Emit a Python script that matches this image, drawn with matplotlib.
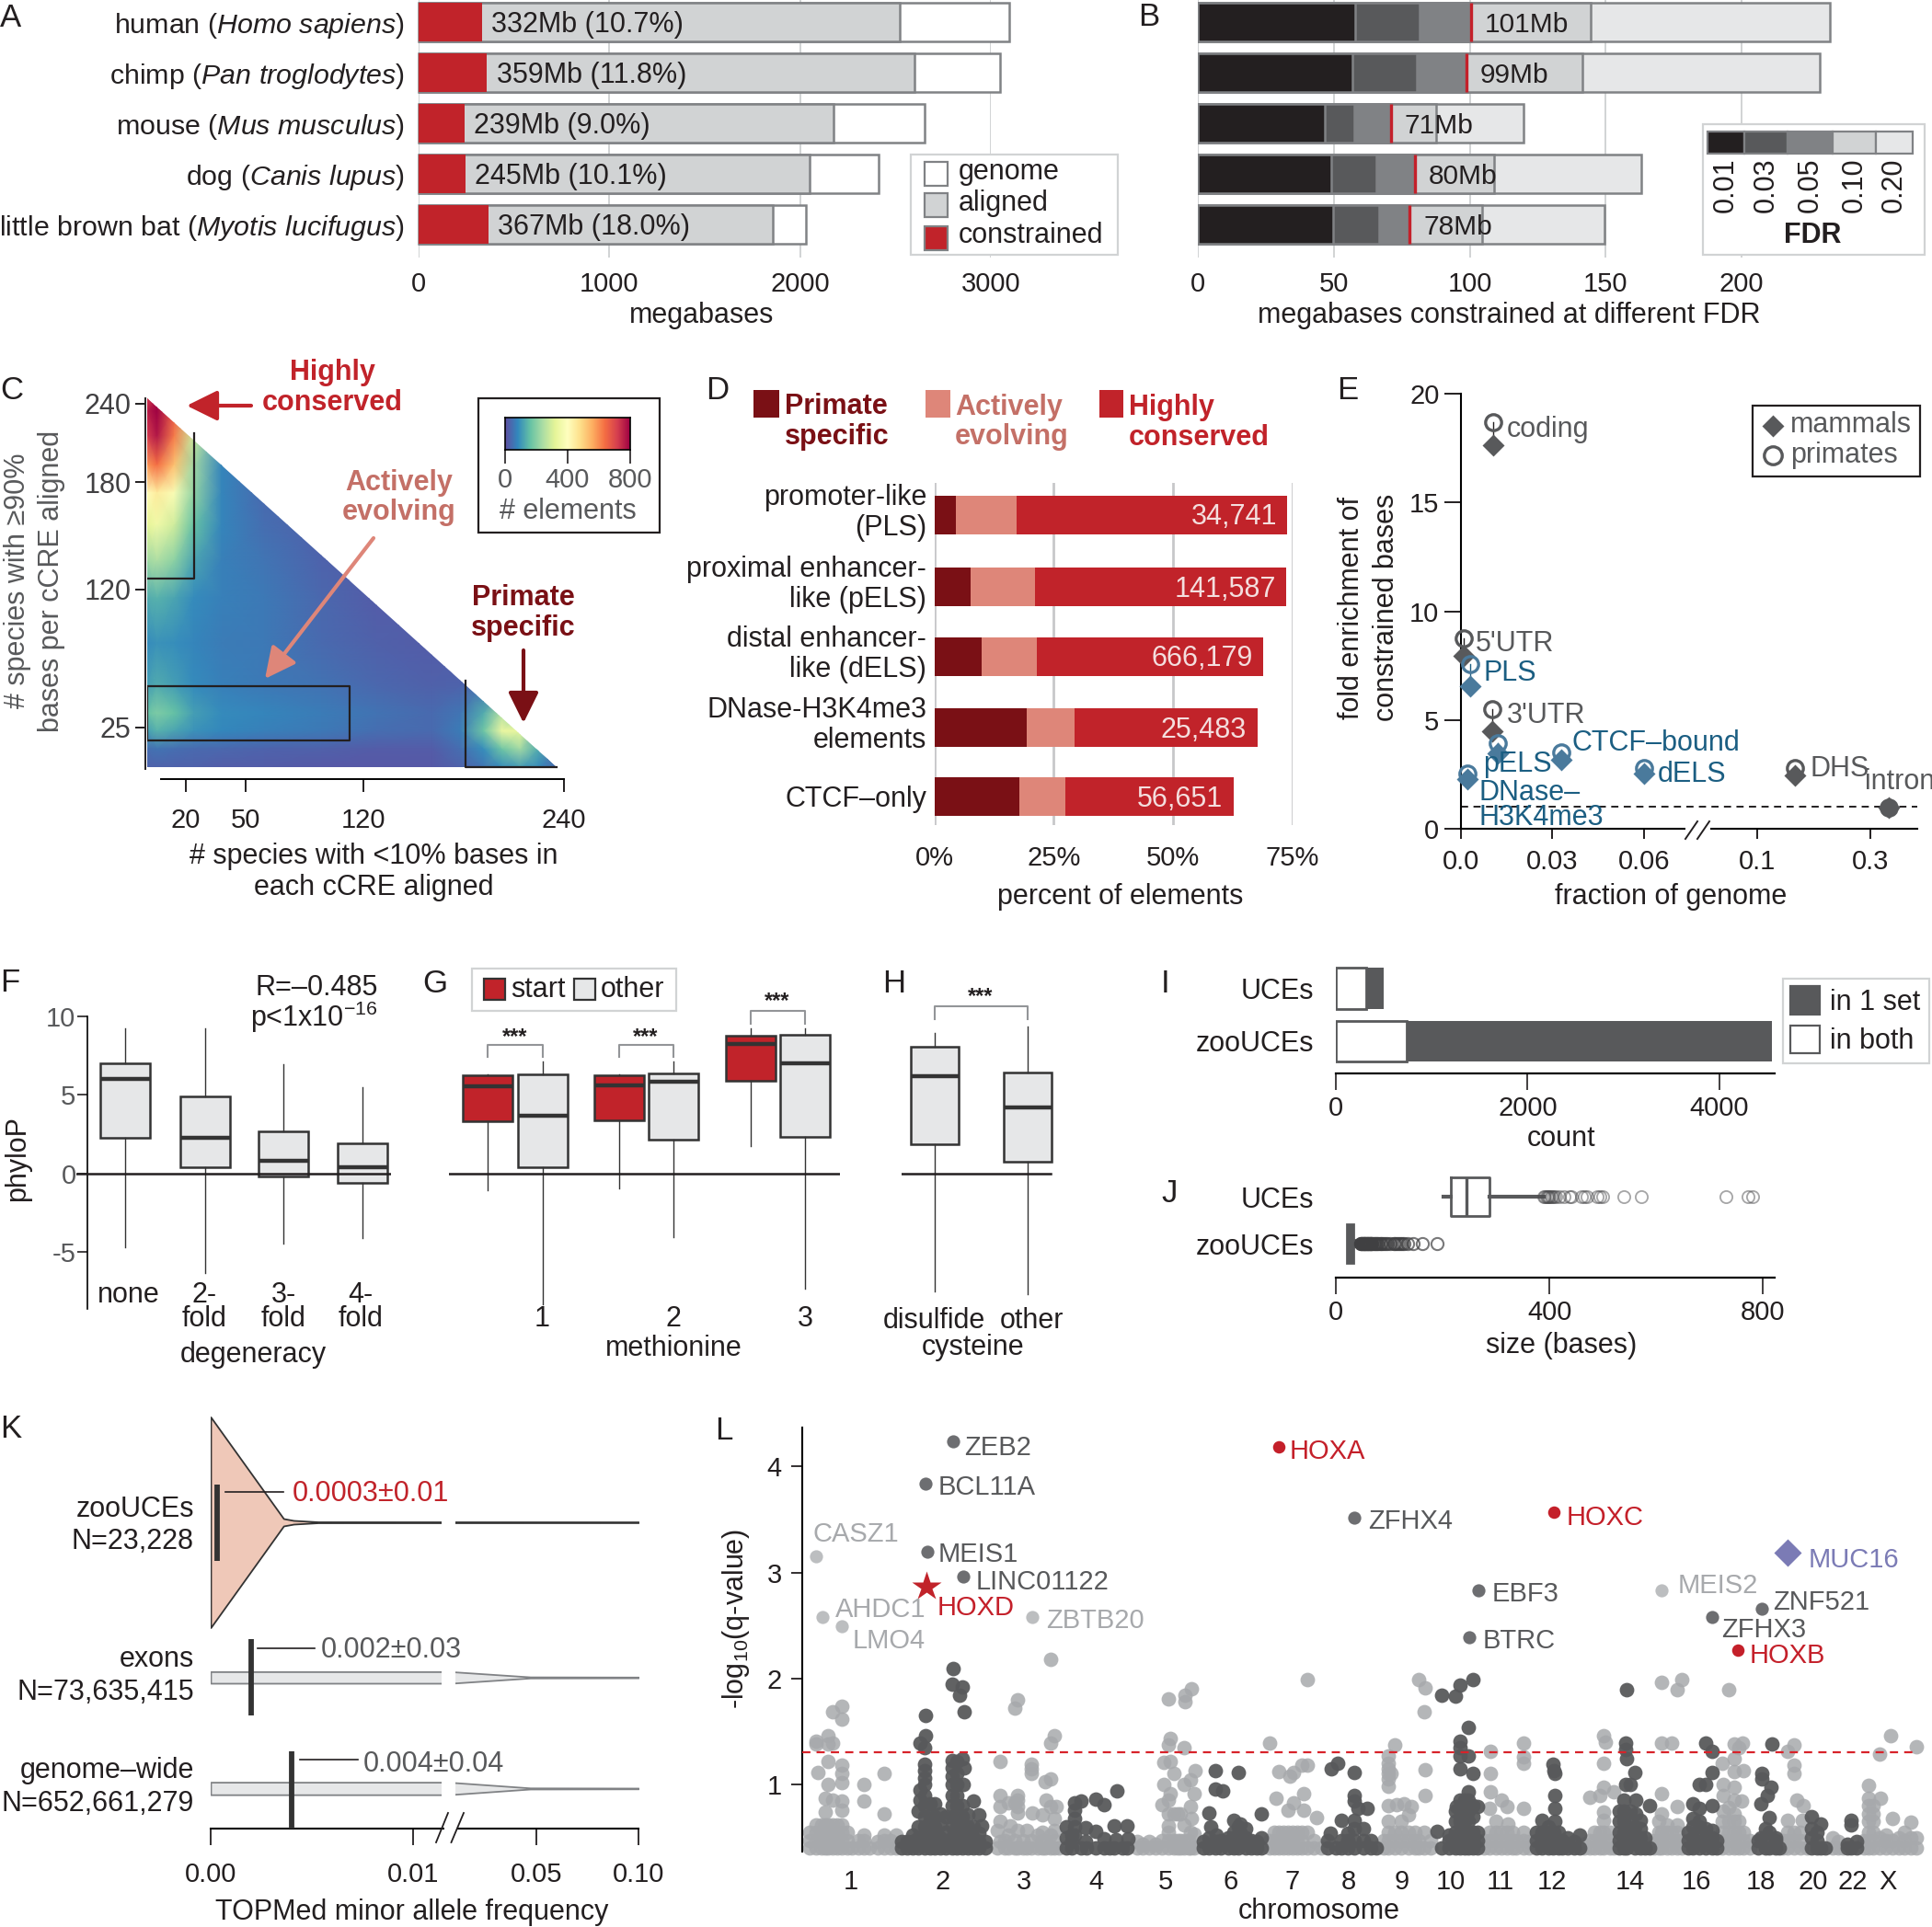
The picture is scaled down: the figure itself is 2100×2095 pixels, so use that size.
import numpy as np
import matplotlib
matplotlib.use('Agg')
import matplotlib.pyplot as plt
from matplotlib.patches import Rectangle, Polygon, FancyArrowPatch

plt.rcParams['font.family'] = ['Liberation Sans', 'DejaVu Sans']
plt.rcParams['mathtext.fontset'] = 'custom'
plt.rcParams['mathtext.rm'] = 'Liberation Sans'
plt.rcParams['mathtext.it'] = 'Liberation Sans:italic'
plt.rcParams['mathtext.bf'] = 'Liberation Sans:bold'
plt.rcParams['axes.unicode_minus'] = False

W, H = 2100, 2095
FS = 22
TICK_FS = 21
GENE_FS = 21
INK = '#231f20'
GREY = '#58595b'
RED = '#c1232a'
SALMON = '#de8679'
MAROON = '#7a1015'
BLUE = '#4a7a9c'
BLUE_TXT = '#1b5e82'

# --- A
species = ['human ($\\mathit{Homo\\ sapiens}$)', 'chimp ($\\mathit{Pan\\ troglodytes}$)',
           'mouse ($\\mathit{Mus\\ musculus}$)', 'dog ($\\mathit{Canis\\ lupus}$)',
           'little brown bat ($\\mathit{Myotis\\ lucifugus}$)']
genome_mb = [3098, 3047, 2654, 2410, 2031]
aligned_mb = [2522, 2600, 2177, 2052, 1855]
constrained_mb = [332, 359, 239, 245, 367]
constrained_txt = ['332Mb (10.7%)', '359Mb (11.8%)', '239Mb (9.0%)', '245Mb (10.1%)', '367Mb (18.0%)']

# --- B
fdr01 = [57.8, 56.7, 46.8, 49.0, 49.8]
fdr03 = [81.6, 80.5, 57.6, 65.6, 66.7]
fdr05 = [100.5, 98.8, 71.0, 80.0, 78.0]
fdr10 = [144.6, 141.5, 87.8, 109.0, 104.6]
fdr20 = [232.6, 228.7, 119.7, 163.0, 149.7]
fdr_txt = ['101Mb', '99Mb', '71Mb', '80Mb', '78Mb']
fdr_levels = ['0.01', '0.03', '0.05', '0.10', '0.20']
fdr_cols = ['#231f20', '#58595b', '#808285', '#d1d3d4', '#e6e7e8']

# --- C, density
dens_x = [0, 5, 14, 24, 38, 61, 95, 128, 161, 178, 192, 203, 214, 225, 236]
dens_y = [244, 234, 215, 193, 174, 156, 136, 114, 83, 54, 35, 23, 12, 0]
dens = [
    [720, 790, 520, 220, 60, 30, 25, 20, 20, 20, 20, 20, 20, 20, 20],
    [760, 800, 670, 280, 70, 30, 25, 20, 20, 20, 20, 20, 20, 20, 20],
    [720, 770, 620, 280, 80, 30, 25, 20, 20, 20, 20, 20, 20, 20, 20],
    [590, 640, 530, 230, 75, 35, 25, 20, 20, 20, 20, 20, 20, 20, 20],
    [410, 450, 380, 210, 75, 40, 25, 20, 20, 20, 20, 20, 20, 20, 20],
    [320, 350, 290, 160, 75, 45, 25, 20, 20, 20, 20, 20, 20, 20, 20],
    [225, 245, 205, 120, 70, 55, 30, 20, 20, 20, 20, 20, 20, 20, 20],
    [130, 140, 120, 85, 70, 60, 35, 20, 20, 20, 20, 20, 20, 20, 20],
    [85, 95, 90, 75, 65, 60, 40, 25, 20, 20, 20, 20, 20, 20, 20],
    [110, 130, 110, 85, 70, 60, 50, 35, 25, 30, 50, 50, 30, 20, 20],
    [160, 190, 160, 110, 85, 75, 65, 50, 40, 55, 130, 250, 150, 40, 20],
    [110, 140, 120, 95, 80, 70, 60, 45, 40, 65, 170, 340, 330, 110, 30],
    [45, 50, 45, 40, 35, 30, 25, 20, 20, 45, 90, 170, 230, 130, 40],
    [25, 25, 25, 25, 20, 20, 15, 15, 15, 25, 50, 80, 100, 80, 40],
]
box_high = [0, 24, 126, 217]
box_active = [0, 112, 17.5, 53.5]
box_primate = [181, 236, 1, 57]

# --- D
d_cats = ['promoter-like\n(PLS)', 'proximal enhancer-\nlike (pELS)', 'distal enhancer-\nlike (dELS)',
          'DNase-H3K4me3\nelements', 'CTCF\u2013only']
d_primate = [4.6, 7.6, 9.9, 19.3, 17.9]
d_active = [12.6, 13.4, 11.5, 10.0, 9.6]
d_high = [56.7, 52.7, 47.5, 38.3, 35.1]
d_counts = ['34,741', '141,587', '666,179', '25,483', '56,651']

# --- E
e_names = ['coding', "5'UTR", 'PLS', "3'UTR", 'pELS', 'CTCF\u2013bound', 'dELS', 'DNase\u2013\nH3K4me3', 'DHS', 'intron']
e_frac = [0.0107, 0.001, 0.003, 0.0104, 0.012, 0.033, 0.06, 0.002, 0.166, 0.34]
e_primates = [18.67, 8.75, 7.57, 5.5, 3.95, 3.5, 2.77, 2.55, 2.8, 0.98]
e_mammals = [17.65, 7.95, 6.57, 4.47, 3.46, 3.17, 2.52, 2.28, 2.47, 0.98]
e_is_ccre = [0, 0, 1, 0, 1, 1, 1, 1, 0, 0]

# --- F (q1, median, q3, low whisker, high whisker)
f_cats = ['none', '2-\nfold', '3-\nfold', '4-\nfold']
f_q1 = [2.28, 0.39, -0.19, -0.58]
f_med = [6.03, 2.24, 0.80, 0.41]
f_q3 = [6.98, 4.92, 2.67, 1.89]
f_lo = [-4.67, -6.34, -4.47, -4.14]
f_hi = [9.24, 9.24, 6.95, 5.47]

# --- G
g_q1 = [3.29, 0.41, 3.35, 2.16, 5.91, 2.33]
g_med = [5.54, 3.68, 5.58, 5.82, 8.25, 7.02]
g_q3 = [6.26, 6.30, 6.26, 6.34, 8.75, 8.79]
g_lo = [-1.07, -8.33, -0.97, -4.05, 1.73, -7.32]
g_hi = [6.32, 7.14, 6.32, 7.14, 9.24, 9.24]

# --- H
h_q1 = [1.83, 0.76]
h_med = [6.20, 4.18]
h_q3 = [8.05, 6.40]
h_lo = [-7.49, -7.65]
h_hi = [8.93, 9.32]

# --- I
i_cats = ['UCEs', 'zooUCEs']
i_both = [316, 742]
i_total = [495, 4553]

# --- J
j_uce_fliers = [390, 392, 394, 396, 398, 400, 403, 405, 409, 412, 419, 428, 438, 442, 461, 466, 471, 490, 495, 499, 539, 573, 731, 772, 780]
j_zoo_fliers = [46, 47, 48, 49, 50, 51, 52, 53, 54, 55, 56, 57, 58, 59, 60,
                61, 62, 63, 64, 65, 66, 67, 68, 70, 72, 74, 76, 78, 80, 82, 84, 87, 90, 93, 96, 102, 108, 111, 114,
                118, 120, 124, 128, 134, 145, 162, 190]

# --- K
k_names = ['zooUCEs\nN=23,228', 'exons\nN=73,635,415', 'genome\u2013wide\nN=652,661,279']
k_median = [0.0003, 0.002, 0.004]
k_txt = ['0.0003\u00b10.01', '0.002\u00b10.03', '0.004\u00b10.04']
zoo_vx = [0, 0.0036, 0.0041, 0.0053, 0.1]
zoo_vw = [114.5, 4.0, 2.0, 0.5, 0.4]
exon_vx = [0, 0.019, 0.0237, 0.048, 0.1]
exon_vw = [6.3, 6.3, 6.0, 0.6, 0.4]
geno_vx = [0, 0.019, 0.0237, 0.048, 0.1]
geno_vw = [6.8, 6.8, 6.3, 0.6, 0.4]

# --- L, position along the genome and -log10(q) read column by column
light_cols = [
    (887, [.40, .47, .55, .62, 1.38, 1.41]), (880, [.40, .47, .55]), (893, [.40, .47, .55, .62]),
    (900, [.40, .47, .55, .62, 1.0, 1.22, 1.38, 1.46]), (889, [1.11]), (897, [.40, .47, .55, .62, .74, .87]),
    (905, [.40, .47, .55, .62, .85, 1.39, 1.69]), (910, [.40, .47, .55, .62]),
    (915, [.40, .47, .55, .62, .76, .84, 1.02, 1.1, 1.18, 1.62, 1.74]), (921, [.40, .47, .55]), (926, [.40]),
    (933, [.40, .47]), (939, [.40, .47, .52, .84, 1.0]), (945, [.40]),
    (954, [.40, .46]), (961, [.40, .47, .52, .72, 1.1]), (968, [.40, .47]), (974, [.40, .52]),
    (1084, [.40, .57]), (1087, [.46, .65, .79, .9, 1.22]), (1092, [.40, .47]), (1096, [.40, .52, .83]),
    (1098, [.61]), (1103, [.40, .47, .83, 1.72]), (1106, [.40, .57, .73, .79, .85, .9, 1.8]),
    (1112, [.40, .47]), (1116, [.40, .57]), (1121, [.40, .47, 1.1, 1.15, 1.19]), (1122, [.73]),
    (1128, [.40, .52]), (1133, [.40, .47, .55, .71]), (1136, [.40, 1.03]), (1137, [.47, .85]),
    (1142, [.40, .52, .79, 1.05, 1.39, 2.18]), (1146, [.40, .47, .57, .68, 1.46]), (1148, [.79]), (1151, [.40]),
    (1236, [.40, .46]), (1242, [.40, .44]), (1249, [.40, .46]), (1256, [.40, .44]), (1263, [.40, .47, .81]),
    (1265, [1.0, 1.21]), (1270, [.40, .47, .55, .61, .72, .85, 1.37, 1.81]), (1272, [.91, 1.22, 1.43]),
    (1276, [.40, .47, 1.1, .72]), (1280, [.40, .47, .72]), (1283, [.40, .47, .72]), (1287, [.40, .47, .62, 1.0, 1.35]),
    (1288, [1.78, 1.84]), (1292, [.40, .47]), (1294, [.40, .55, .79, 1.04]), (1295, [.68, 1.9]),
    (1298, [.40, .53, .91]), (1299, [1.13]),
    (1380, [.40, .47, 1.39]), (1385, [.40, .47, .55]), (1387, [.87]), (1390, [.40, .47, .55, 1.12]), (1395, [.40, .47, .55]),
    (1400, [.40, .47, .55, .76]), (1402, [1.08]), (1405, [.40, .47, .55]), (1406, [.83, 1.11]), (1410, [.40, .47, .55]),
    (1415, [.40, .47, .55, 1.18]), (1417, [.76, .91]), (1421, [.40, .55, 1.18, 1.99]), (1428, [.40, .47]), (1431, [.69]),
    (1436, [.40]),
    (1504, [.40, .47]), (1509, [.40, .47, .55, .65, .8, .98, 1.05, 1.1, 1.15, 1.2, 1.27]), (1512, [1.1]),
    (1516, [.40, .47, .55, 1.37]), (1518, [.81]), (1523, [.40, .47, .55, .65]), (1526, [.82]), (1531, [.40, .47, .55, .71]),
    (1534, [.79]), (1538, [.40, .47, .55]), (1542, [.40, .47, 1.99]), (1548, [.40, .55, 1.69]), (1549, [.9, 1.14, 1.91]),
    (1555, [.40, .47]),
    (1613, [.40, .47]), (1619, [.40, .47, .55, .77]), (1620, [.93, 1.1, 1.31]), (1626, [.40, .47, .55, .65]),
    (1632, [.40, .47, .55, .85]), (1638, [.40, .47, .55, .79]), (1639, [.63]), (1644, [.40, .47, .55]), (1648, [.40, .47]),
    (1656, [.40, .47, .55, .77, 1.2, 1.26, 1.39]), (1662, [.40, .46]),
    (1722, [.40, .44]), (1728, [.40, .47, .88]), (1733, [.40, .47, .55]), (1739, [.40, .47, .55, .9]),
    (1743, [.40, .47, .55, .66, .74, .97, 1.2, 1.46]), (1745, [1.4]), (1750, [.40, .47, .55]), (1754, [.40, .93]),
    (1798, [.40, .47]), (1803, [.40, .47, .55, .65]), (1806, [.40, .47, .55, .72, .91, 1.39, 1.96]), (1812, [.40, .47, .55, .62]),
    (1817, [.40, .47, .55, 1.39]), (1823, [.40, .47, .55, .62, .79, 1.89]), (1828, [.40, .47, 1.99]),
    (1872, [.40, .47, .55, .65, 1.2]), (1873, [.75, .9, 1.0]), (1879, [.40, .47, .55, .65, .78, 1.89]),
    (1885, [.40, .47, .55, .65, .72, .85, .97, 1.12, 1.24, 1.38]), (1890, [.40, .47, .55, .65, 1.35]), (1893, [.84]),
    (1895, [.40, .47, .55, 1.13]), (1894, [1.39]), (1902, [.40, .47]),
    (1938, [.40, .47]), (1943, [.40, .47, .55, .66, 1.31]), (1950, [.40, .47, .55, 1.1, 1.18, 1.37]), (1953, [.85]),
    (1957, [.40, .47, .55]), (1959, [.66]), (1960, [.8]), (1964, [.40]),
    (1992, [.40, .50]), (1998, [.40, .46]), (2003, [.40]),
    (2026, [.40, .47]), (2031, [.40, .47, .55, .65, .72, .8, .87, .99]), (2036, [.40, .47, .55, .65, .72, .8]),
    (2043, [.40, .5, 1.29]), (2044, [.87]), (2050, [.40, .47, .52]), (2055, [1.46]), (2057, [.40, .47, .68]),
    (2064, [.40, .5]), (2070, [.40, .47, .55]), (2077, [.40, .5, .64]), (2083, [.40, .5, 1.36]),
]
dark_cols = [
    (980, [.40, .46]), (986, [.40, .46]), (992, [.40, .46, .52]), (998, [.40, .5, .6, .75]),
    (1000, [1.39, .85, .95]), (1005, [.40, .5, .6, .7, .8, .9, 1.0, 1.06, 1.13, 1.19, 1.35]), (1006, [1.46, 1.65]),
    (1011, [.40, .5, .6, .7, .82]), (1016, [.40, .5, .6, .7, .82]), (1022, [.40, .5, .62, .72]), (1028, [.40, .46, .55, .7]),
    (1035, [.40, .5, .6, .7, .8, .9, 1.0, 1.08, 1.16, 1.23, 1.95]), (1036, [2.09]),
    (1040, [.40, .5, .6, .7, .8, .9, 1.0, 1.1, 1.22]), (1043, [1.84]), (1046, [.40, .5, .6, .7, .8, 1.24, 1.92]),
    (1047, [1.0]), (1048, [1.16, 1.69]), (1052, [.40, .5, .6, .71]), (1058, [.40, .5, .6, .84]), (1064, [.40, .46, .54, .71]),
    (1067, [.61]), (1071, [.40, .46]),
    (1159, [.40, .5, .6]), (1165, [.40, .46, .52]), (1168, [.52, .6, .68, .76, .83]), (1175, [.40, .84]), (1180, [.46, .59]),
    (1181, [.40]), (1191, [.40, .56, .86]), (1200, [.40, .49, .81]), (1206, [.40]), (1211, [.61, .40]), (1213, [.48]),
    (1214, [.94]), (1220, [.40]), (1225, [.40, .61]), (1226, [.49]),
    (1308, [.40, .46]), (1314, [.40, .5, .73]), (1316, [.6]), (1321, [.40, .46, .96, 1.13]), (1322, [.52]), (1327, [.40, .47]),
    (1329, [.94]), (1335, [.40, .46, .5]), (1341, [.40, .5, .55, .66]), (1346, [.40, .5, .6, 1.11]), (1348, [.55, .63]),
    (1354, [.40, .5, .58]), (1360, [.40, .47]), (1366, [.40, .46]), (1371, [.40, .5, .72]),
    (1443, [.40, .47]), (1446, [.54]), (1447, [1.15]), (1452, [.40]), (1454, [1.2]), (1458, [.40, .47, .66]),
    (1465, [.40, .54, .47]), (1472, [.40, .47, .58, .66, .84, .9, 1.11]), (1476, [.77]), (1482, [.40, .47, .58]),
    (1486, [.77]), (1490, [.40, .47]), (1496, [.40]),
    (1562, [.56]), (1567, [.40, 1.84]), (1575, [.40, .47, .52]), (1582, [.40, .47, .55, .65, .75, 1.83]), (1583, [.79]),
    (1587, [.40, .47, .55, .65, .75, .85, 1.15, 1.27, 1.35, 1.41, 1.94]),
    (1592, [.40, .47, .55, .65, .75, .85]), (1596, [.40, .47, .55, .65, .75, .85, .93, 1.27, 1.54]), (1601, [.40, .47, .55, .7, .8, 1.1, 1.99]),
    (1606, [.40, .47, .55, .79]),
    (1670, [.40, .47, .55]), (1676, [.40, .47, .55, .66]), (1683, [.40, .47, .55, .6]), (1688, [.40, .47, 1.19]),
    (1689, [.55, 1.13]), (1690, [.65, .77, .9, 1.1]), (1694, [.40, .47, .55]), (1698, [.40, .47]), (1704, [.40, .5]), (1711, [.40, .46]), (1717, [.40, .52]),
    (1760, [.40, .47, .55, .65, .75]), (1765, [.40, .47, .55, .65, .75, .85]), (1767, [1.0, 1.39, 1.33]), (1768, [.40, 1.24, 1.89]),
    (1772, [.47, .55, .65, .75, 1.0]), (1777, [.40, .5, .6, 1.11]), (1778, [.85, .72]), (1783, [.40, .5, .58, .66]),
    (1788, [.40, .5]), (1793, [.40, .8]),
    (1835, [.40, .47, .55]), (1840, [.40, .5, .6, .68, .82]), (1847, [.40, .5, .6, .65, .77, 1.0]), (1854, [.40, .5, .58, 1.0, 1.39]),
    (1861, [.40, .5, .57, .8, 1.11, 1.31]), (1866, [.40, .47]),
    (1911, [.40, .47]), (1914, [.5, .82]), (1915, [1.1, 1.05]), (1919, [.40, .5, .58]), (1921, [.9]), (1923, [.40, .55, .69]),
    (1925, [.97]), (1926, [1.38]), (1930, [.40, .47, .5]), (1934, [.40]),
    (1969, [.40, .5, .58, .7]), (1975, [.40, .47, .55]), (1979, [.40, .63]), (1984, [.40]),
    (2008, [.40, .44]), (2012, [.40, .66, .62]), (2018, [.40, .46]),
]
named_genes = ['ZEB2', 'BCL11A', 'MEIS1', 'LINC01122', 'ZFHX4', 'EBF3', 'BTRC', 'ZFHX3', 'ZNF521']
named_pos = [1036, 1005.5, 1007.6, 1047, 1472, 1606.5, 1596.5, 1860.6, 1915]
named_q = [4.24, 3.84, 3.2, 2.96, 3.52, 2.83, 2.39, 2.58, 2.66]
named_px = [(1048, 1573), (1020, 1616.5), (1020, 1690), (1061, 1719), (1487, 1653), (1621.6, 1732.5), (1612, 1783), (1871, 1771), (1927, 1741)]
pale_genes = ['CASZ1', 'AHDC1', 'LMO4', 'ZBTB20', 'MEIS2']
pale_pos = [887, 893.6, 915, 1122, 1806]
pale_q = [3.15, 2.58, 2.49, 2.58, 2.83]
pale_px = [(883.6, 1668), (908, 1749), (927, 1783), (1137, 1761), (1824, 1723.5)]
hox_genes = ['HOXA', 'HOXC', 'HOXB']
hox_pos = [1390, 1689, 1889]
hox_q = [4.19, 3.57, 2.27]
hox_px = [(1402, 1577), (1703, 1650), (1902, 1799)]
chrom_labels = ['1', '2', '3', '4', '5', '6', '7', '8', '9', '10', '11', '12', '14', '16', '18', '20', '22', 'X']
chrom_pos = [925, 1024.5, 1112.6, 1191.5, 1266.5, 1338, 1405, 1466, 1524, 1577, 1631, 1687, 1772, 1844, 1913.5, 1971, 2014, 2052]


def flat(cols):
    xs, ys = [], []
    for x, vals in cols:
        for v in vals:
            xs.append(x)
            ys.append(v)
    return xs, ys


def make_ax(x0, y0, x1, y1):
    ax = fig.add_axes([x0 / W, 1 - y1 / H, (x1 - x0) / W, (y1 - y0) / H])
    ax.patch.set_visible(False)
    for s in ax.spines.values():
        s.set_visible(False)
    ax.tick_params(labelsize=TICK_FS, length=0, color=INK, labelcolor=INK)
    return ax


def stops(vals, px):
    return (lambda v: np.interp(v, vals, px), lambda p: np.interp(p, px, vals))


def T(x, y, s, ha='left', color=INK, size=FS, **kw):
    return ov.text(x, y + 2.5, s, ha=ha, va='center', color=color, fontsize=size, **kw)


def lg_box(x0, y0, x1, y1, ec='#d1d3d4', lw=1.6):
    ov.add_patch(Rectangle((x0, y0), x1 - x0, y1 - y0, fc='white', ec=ec, lw=lw, zorder=1))


def swatch(x0, y0, x1, y1, fc, ec='#808285', lw=1.6):
    ov.add_patch(Rectangle((x0, y0), x1 - x0, y1 - y0, fc=fc, ec=ec, lw=lw, zorder=2))


def arrow(p0, p1, color, lw=3.0):
    ov.add_patch(FancyArrowPatch(p0, p1, arrowstyle='-|>,head_length=0.85,head_width=0.42', mutation_scale=24,
                                 color=color, lw=lw, shrinkA=0, shrinkB=0, zorder=6))


def boxes(ax, q1, med, q3, lo, hi, pos, width, fill):
    stats = [dict(q1=a, med=b, q3=c, whislo=d, whishi=e, fliers=[]) for a, b, c, d, e in zip(q1, med, q3, lo, hi)]
    art = ax.bxp(stats, positions=pos, widths=width, patch_artist=True, showcaps=False, showfliers=False, manage_ticks=False,
                 boxprops=dict(edgecolor='#333333', linewidth=1.8),
                 medianprops=dict(color='#333333', linewidth=3.2),
                 whiskerprops=dict(color='#333333', linewidth=1.0))
    for b, c in zip(art['boxes'], fill):
        b.set_facecolor(c)


def bracket(x0, x1, top, bot):
    ov.plot([x0, x0, x1, x1], [bot, top, top, bot], color='#939598', lw=1.5, zorder=3)


fig = plt.figure(figsize=(W / 100, H / 100), dpi=100)
ov = fig.add_axes([0, 0, 1, 1], zorder=20)
ov.set_xlim(0, W)
ov.set_ylim(H, 0)
ov.axis('off')

for letter, x, y in [('A', 0, 17), ('B', 1237, 16), ('C', 0, 422), ('D', 767, 422), ('E', 1453, 422), ('F', 0, 1066),
                     ('G', 459, 1067), ('H', 959, 1067), ('I', 1262, 1067), ('J', 1262, 1295), ('K', 0, 1551), ('L', 777, 1553)]:
    T(x, y, letter, size=25)

# panel A
ax = make_ax(455, 0, 1077, 280)
rows = np.arange(5)
ax.set_xlim(0, 3000)
ax.set_ylim(4.655, -0.436)
ax.set_xticks([0, 1000, 2000, 3000])
ax.grid(axis='x', color='#d1d3d4', lw=1.4)
ax.set_axisbelow(True)
ax.barh(rows, genome_mb, height=0.76, color='white', edgecolor='#808285', lw=1.8, clip_on=False)
ax.barh(rows, aligned_mb, height=0.76, color='#d1d3d4', edgecolor='#808285', lw=1.8)
ax.barh(rows, constrained_mb, height=0.76, color=RED, edgecolor='none')
ax.set_yticks(rows, species)
ax.tick_params(axis='y', pad=11, labelsize=FS - 0.1)
ax.tick_params(axis='x', pad=11)
for r, c, s in zip(rows, constrained_mb, constrained_txt):
    ax.text(c + 50, r + 0.05, s, va='center', ha='left', fontsize=FS, color=INK)
T(763, 340, 'megabases', ha='center')
lg_box(990, 168, 1215, 277)
swatch(1004.5, 176, 1030, 202, 'white')
swatch(1004.5, 210, 1030, 236, '#d1d3d4')
swatch(1004.5, 246, 1030, 272, RED)
T(1042, 184, 'genome')
T(1042, 219, 'aligned')
T(1042, 253, 'constrained')

# panel B
ax = make_ax(1302, 0, 2100, 280)
ax.set_xlim(0, (2100 - 1302) / 2.955)
ax.set_ylim(4.655, -0.436)
ax.set_xticks([0, 50, 100, 150, 200])
ax.set_yticks([])
ax.grid(axis='x', color='#d1d3d4', lw=1.4)
ax.set_axisbelow(True)
for vals, c in zip([fdr20, fdr10, fdr05, fdr03, fdr01], fdr_cols[::-1]):
    ax.barh(rows, vals, height=0.76, color=c, edgecolor='#808285', lw=1.8)
ax.vlines(fdr05, rows - 0.38, rows + 0.38, color='#c4202a', lw=2.4, zorder=5)
ax.tick_params(axis='x', pad=11)
for r, v, s in zip(rows, fdr05, fdr_txt):
    ax.text(v + 5, r + 0.05, s, va='center', ha='left', fontsize=FS - 0.5, color=INK, zorder=6)
T(1640, 340, 'megabases constrained at different FDR', ha='center')
lg_box(1851, 135, 2092, 277)
cell_edges = [1856, 1896, 1943, 1992, 2039, 2079]
for i, (c, s) in enumerate(zip(fdr_cols, fdr_levels)):
    swatch(cell_edges[i], 143, cell_edges[i + 1], 167, c)
    T((cell_edges[i] + cell_edges[i + 1]) / 2, 199, s, ha='center', rotation=90)
T(1970, 254, 'FDR', ha='center', fontweight='bold')

# panel C
ax = make_ax(160, 433, 612.5, 836)
ax.set_xscale('function', functions=stops([0, 20, 50, 120, 240], [160, 202, 267, 395, 612.5]))
ax.set_yscale('function', functions=stops([0, 25, 120, 180, 244], [-836, -791, -641, -524, -433]))
ax.set_xlim(0, 240)
ax.set_ylim(0, 244)
mesh = ax.pcolormesh(dens_x, dens_y, np.array(dens), cmap='Spectral_r', vmin=0, vmax=800, shading='gouraud', rasterized=True)
mesh.set_clip_path(Polygon([(0, 244), (236, 1), (0, 1)], transform=ax.transData))
ax.plot([box_high[0], box_high[1], box_high[1]], [box_high[2], box_high[2], box_high[3]], color=INK, lw=1.6)
ax.plot([box_active[0], box_active[1], box_active[1], box_active[0], box_active[0]],
        [box_active[2], box_active[2], box_active[3], box_active[3], box_active[2]], color=INK, lw=1.6)
ax.plot([box_primate[0], box_primate[0], box_primate[1]], [box_primate[3], box_primate[2], box_primate[2]], color=INK, lw=1.6)
ax.minorticks_off()
ax.set_xticks([20, 50, 120, 240])
ax.set_yticks([25, 120, 180, 240])
ax.spines['left'].set_visible(True)
ax.spines['left'].set_position(('outward', 1.5))
ax.spines['left'].set_color(INK)
ax.spines['left'].set_linewidth(1.4)
ax.spines['bottom'].set_visible(True)
ax.spines['bottom'].set_position(('outward', 8))
ax.spines['bottom'].set_bounds(7, 240)
ax.spines['bottom'].set_linewidth(1.4)
ax.tick_params(axis='x', length=10, width=1.4, pad=12)
ax.tick_params(axis='y', length=8, width=1.4, pad=3, labelcolor='#414042', labelsize=FS)
T(406, 928, '# species with <10% bases in', ha='center')
T(406, 962, 'each cCRE aligned', ha='center')
T(19, 629, '# species with \u226590%', ha='center', rotation=90, color=GREY)
T(56, 629, 'bases per cCRE aligned', ha='center', rotation=90, color=GREY)
T(361, 403, 'Highly', ha='center', color=RED, fontweight='bold')
T(361, 435, 'conserved', ha='center', color=RED, fontweight='bold')
arrow((273, 441), (203, 441), RED)
T(434, 522, 'Actively', ha='center', color='#c47067', fontweight='bold')
T(434, 555, 'evolving', ha='center', color='#c47067', fontweight='bold')
arrow((406, 585), (288, 738), SALMON)
T(569, 647, 'Primate', ha='center', color=MAROON, fontweight='bold')
T(569, 681, 'specific', ha='center', color=MAROON, fontweight='bold')
arrow((569, 707), (569, 786), MAROON)
ov.add_patch(Rectangle((520, 433), 197, 146, fc='white', ec=INK, lw=1.6, zorder=1))
cax = make_ax(549, 454, 685, 489)
cax.set_zorder(25)
cax.imshow(np.linspace(0, 800, 256)[None, :], cmap='Spectral_r', vmin=0, vmax=800, aspect='auto', extent=[0, 800, 0, 1])
cax.set_yticks([])
cax.set_xticks([0, 400, 800])
cax.tick_params(axis='x', length=11, width=1.2, pad=3, labelcolor=GREY)
for s in cax.spines.values():
    s.set_visible(True)
    s.set_linewidth(1.2)
T(617, 553, '# elements', ha='center', color=GREY)

# panel D
d_ypos = [559.5, 638, 713.5, 791, 866]
d_label_ypos = [552.5, 631, 706.5, 784, 866]
ax = make_ax(1015.5, 525, 1405, 897)
ax.set_xlim(0, 75)
ax.set_ylim(897, 525)
ax.grid(axis='x', color='#c7c8ca', lw=2)
ax.set_axisbelow(True)
ax.set_xticks([0, 25, 50, 75], ['0%', '25%', '50%', '75%'])
left = np.zeros(5)
for vals, c in zip([d_primate, d_active, d_high], [MAROON, SALMON, RED]):
    ax.barh(d_ypos, vals, left=left, height=42, color=c, clip_on=False)
    left = left + np.array(vals)
for y, v, s in zip(d_ypos, left, d_counts):
    ax.text(v - 2.2, y + 3, s, ha='right', va='center', color='#f4dede', fontsize=FS, zorder=5)
ax.set_yticks(d_label_ypos, d_cats, ma='right', linespacing=1.12)
ax.tick_params(axis='y', pad=6, labelsize=FS)
ax.tick_params(axis='x', pad=16)
T(1217.5, 972, 'percent of elements', ha='center')
for x0, x1, tx, c, c2, a, b in [(819, 846.5, 853, MAROON, MAROON, 'Primate', 'specific'),
                                (1006, 1033, 1038, SALMON, '#c47067', 'Actively', 'evolving'),
                                (1194.5, 1221, 1227, RED, RED, 'Highly', 'conserved')]:
    ov.add_patch(Rectangle((x0, 424), x1 - x0, 30, fc=c, ec='none'))
    T(tx, 440, a, color=c2, fontweight='bold')
    T(tx, 473, b, color=c2, fontweight='bold')

# panel E
ax = make_ax(1588, 428, 2084, 901)
ax.set_xscale('function', functions=stops([0, 0.03, 0.06, 0.07, 0.1, 0.3, 0.4], [1588, 1687, 1787, 1830, 1910, 2033, 2084]))
ax.set_xlim(0, 0.4)
ax.set_ylim(0, 20)
ax.minorticks_off()
ax.set_xticks([0, 0.03, 0.06, 0.1, 0.3], ['0.0', '0.03', '0.06', '0.1', '0.3'])
ax.set_yticks([0, 5, 10, 15, 20])
for k in ['left', 'bottom']:
    ax.spines[k].set_visible(True)
    ax.spines[k].set_linewidth(1.5)
ax.tick_params(axis='x', length=8, width=1.4, pad=8)
ax.tick_params(axis='y', length=13, width=1.4, pad=4)
ax.axhline(1, color=INK, lw=1.4, ls=(0, (4, 3)))
for x, p, m, c in zip(e_frac, e_primates, e_mammals, e_is_ccre):
    col = BLUE if c else GREY
    ax.plot([x, x], [m, p], color=BLUE_TXT if c else INK, lw=1, zorder=3)
    ax.plot(x, m, marker='D', ms=12, color=col, mec='none', zorder=4, clip_on=False)
    ax.plot(x, p, marker='o', ms=12.5, mfc='none', mec=col, mew=2.4, zorder=5, clip_on=False)
ov.add_patch(Rectangle((1832, 895), 27, 12, fc='white', ec='none', zorder=3))
ov.plot([1832, 1845], [912, 893], color=INK, lw=1.4, zorder=4)
ov.plot([1845, 1858], [912, 893], color=INK, lw=1.4, zorder=4)
e_label_px = [(1638, 465), (1604, 698), (1612.5, 729), (1638, 775), (1612, 828), (1709, 806), (1802, 840), (1608, 873), (1967, 834), (2027, 847)]
for name, (x, y), c in zip(e_names, e_label_px, e_is_ccre):
    T(x, y, name, color=BLUE_TXT if c else GREY, linespacing=0.85)
T(1469, 658, 'fold enrichment of', ha='center', rotation=90)
T(1507, 658, 'constrained bases', ha='center', rotation=90)
T(1816, 972, 'fraction of genome', ha='center')
lg_box(1905, 440.5, 2087, 518, ec=INK)
ov.plot(1927, 463, marker='D', ms=12, color=GREY, mec='none', zorder=3)
ov.plot(1927, 495, marker='o', ms=14, mfc='none', mec=GREY, mew=2.4, zorder=3)
T(1946, 459, 'mammals', color=GREY)
T(1946, 492, 'primates', color=GREY)

# panel F
ax = make_ax(83, 1090, 425, 1430)
BOX_Y = (-(1430 - 1275.7) / 17.1, (1275.7 - 1090) / 17.1)
ax.set_xlim(83, 425)
ax.set_ylim(*BOX_Y)
f_pos = [136, 222.7, 308, 394]
boxes(ax, f_q1, f_med, f_q3, f_lo, f_hi, f_pos, 54, ['#e6e7e8'] * 4)
ax.plot([83, 425], [0, 0], color=INK, lw=1.8, zorder=5)
ax.spines['left'].set_visible(True)
ax.spines['left'].set_position(('data', 95))
ax.spines['left'].set_bounds(-8.6, 10)
ax.spines['left'].set_linewidth(1.2)
ax.set_xticks([])
ax.set_yticks([-5, 0, 5, 10])
ax.tick_params(axis='y', length=8, width=1.2, pad=1, labelcolor=GREY)
for x, s in zip([140, 222, 308, 392], f_cats):
    a = s.split('\n')
    T(x, 1405, a[0], ha='center')
    if len(a) > 1:
        T(x, 1431, a[1], ha='center')
T(275.5, 1470, 'degeneracy', ha='center')
T(19, 1257, 'phyloP', ha='center', rotation=90)
T(411, 1071, 'R=\u20130.485', ha='right')
T(411, 1103, 'p<1x10$^{-16}$', ha='right')

# panel G
ax = make_ax(488, 1090, 913, 1430)
ax.set_xlim(488, 913)
ax.set_ylim(*BOX_Y)
ax.set_xticks([])
ax.set_yticks([])
g_pos = [530, 590, 673, 732, 816, 875]
boxes(ax, g_q1, g_med, g_q3, g_lo, g_hi, g_pos, 54, [RED, '#e6e7e8'] * 3)
ax.plot([488, 913], [0, 0], color=INK, lw=1.8, zorder=5)
bracket(530, 590, 1136, 1149)
bracket(673, 732, 1136, 1149)
bracket(816, 875, 1099, 1113)
for x, y in [(559.5, 1124), (702, 1124), (845, 1085)]:
    T(x, y + 1, '***', ha='center', size=FS - 5, fontweight='bold')
for x, s in zip([589, 732, 875], ['1', '2', '3']):
    T(x, 1431, s, ha='center')
T(732, 1463, 'methionine', ha='center')
lg_box(513, 1053, 735, 1099)
swatch(526, 1064, 549, 1087, RED, ec='#333333')
swatch(624, 1064, 647, 1087, '#e6e7e8', ec='#333333')
T(555, 1074, 'start')
T(653, 1074, 'other')

# panel H
ax = make_ax(980, 1090, 1150, 1430)
ax.set_xlim(980, 1150)
ax.set_ylim(*BOX_Y)
ax.set_xticks([])
ax.set_yticks([])
h_pos = [1015.5, 1117]
boxes(ax, h_q1, h_med, h_q3, h_lo, h_hi, h_pos, 52, ['#e6e7e8'] * 2)
ax.plot([980, 1142], [0, 0], color=INK, lw=1.8, zorder=5)
bracket(1015.5, 1117, 1094, 1108)
T(1066, 1081, '***', ha='center', size=FS - 5, fontweight='bold')
T(1015.5, 1433, 'disulfide', ha='center')
T(1121, 1433, 'other', ha='center')
T(1058, 1463, 'cysteine', ha='center')

# panel I
ax = make_ax(1452, 1045, 1929.5, 1167)
ax.set_xlim(0, 4582)
ax.set_ylim(1.609, -0.513)
ax.barh([0, 1], i_total, height=0.78, color=GREY)
ax.barh([0, 1], i_both, height=0.78, color='white', edgecolor=GREY, lw=2)
ax.set_yticks([0, 1], i_cats)
ax.set_xticks([0, 2000, 4000])
ax.spines['bottom'].set_visible(True)
ax.spines['bottom'].set_linewidth(1.6)
ax.tick_params(axis='x', length=13, width=1.2, pad=4)
ax.tick_params(axis='y', pad=17, labelsize=FS)
T(1697, 1235, 'count', ha='center')
lg_box(1938, 1064, 2097, 1156)
swatch(1946, 1072, 1978, 1103, GREY, ec=GREY)
swatch(1946, 1115, 1978, 1145, 'white', ec=GREY)
T(1989, 1087, 'in 1 set')
T(1989, 1129, 'in both')

# panel J
ax = make_ax(1452, 1270, 1929.5, 1389)
ax.set_xlim(0, 823)
ax.set_ylim(1.725, -0.608)
ax.bxp([dict(q1=215, med=244, q3=288, whislo=201, whishi=390, fliers=j_uce_fliers)],
       positions=[0], widths=0.84, orientation='horizontal', manage_ticks=False, showcaps=False,
       boxprops=dict(color=GREY, linewidth=2), medianprops=dict(color=GREY, linewidth=2.4),
       whiskerprops=dict(color=GREY, linewidth=3),
       flierprops=dict(marker='o', ms=9.5, mfc='none', mec=(0.3, 0.3, 0.31, 0.5), mew=1.3, ls='none'))
ax.bxp([dict(q1=20, med=25, q3=33, whislo=20, whishi=46, fliers=j_zoo_fliers)],
       positions=[1], widths=0.84, orientation='horizontal', manage_ticks=False, showcaps=False, patch_artist=True,
       boxprops=dict(facecolor=GREY, edgecolor=GREY, linewidth=2), medianprops=dict(color=GREY, linewidth=2.4),
       whiskerprops=dict(color=GREY, linewidth=7),
       flierprops=dict(marker='o', ms=9.5, mfc='none', mec=(0.25, 0.25, 0.26, 0.7), mew=1.5, ls='none'))
ax.set_yticks([0, 1], i_cats)
ax.set_xticks([0, 400, 800])
ax.spines['bottom'].set_visible(True)
ax.spines['bottom'].set_linewidth(1.6)
ax.tick_params(axis='x', length=13, width=1.2, pad=4)
ax.tick_params(axis='y', pad=17, labelsize=FS)
T(1697, 1461, 'size (bases)', ha='center')

# panel K
k_y = [1655, 1823.7, 1944.4]
ax = make_ax(229, 1530, 694, 1987.7)
ax.set_xscale('function', functions=stops([0, 0.01, 0.05, 0.1], [229, 449, 583, 694]))
ax.set_xlim(0, 0.1)
ax.set_ylim(1987.7, 1530)
ax.minorticks_off()
for vx, vw, y, fc, ec in [(zoo_vx, zoo_vw, k_y[0], '#efc8b8', '#333333'), (exon_vx, exon_vw, k_y[1], '#e6e7e8', '#808285'),
                          (geno_vx, geno_vw, k_y[2], '#e6e7e8', '#808285')]:
    yy = np.array(vw)
    ax.fill_between(vx, y - yy, y + yy, facecolor=fc, edgecolor=ec, lw=1.3)
k_bar = [(1613.6, 1696.5), (1782, 1865), (1903.7, 1987.7)]
for m, (a, b), col in zip(k_median, k_bar, ['#333333'] * 3):
    ax.plot([m, m], [a, b], color=col, lw=4.2, solid_capstyle='butt', zorder=5)
ax.spines['bottom'].set_visible(True)
ax.spines['bottom'].set_linewidth(1.5)
ax.set_yticks([])
ax.set_xticks([0, 0.01, 0.05, 0.1], ['0.00', '0.01', '0.05', '0.10'])
ax.tick_params(axis='x', length=13, width=1.3, pad=13)
ov.add_patch(Rectangle((480, 1640), 15, 315, fc='white', ec='none', zorder=3))
ov.add_patch(Rectangle((483, 1982), 14, 11, fc='white', ec='none', zorder=3))
ov.plot([474, 487], [2003, 1971], color=INK, lw=1.3, zorder=4)
ov.plot([490.5, 504], [2003, 1971], color=INK, lw=1.3, zorder=4)
for (x0, x1, y), (tx, ty), s, c in zip([(245, 308, 1622), (280, 342, 1792), (326, 389, 1913)],
                                       [(317.5, 1622), (349, 1792), (395, 1915)], k_txt, [RED, GREY, GREY]):
    ov.plot([x0, x1], [y, y], color=INK, lw=1.2, zorder=6)
    T(tx, ty, s, color=c)
k_row_px = [(1638.6, 1674), (1801, 1838), (1923, 1958.6)]
for s, (a, b) in zip(k_names, k_row_px):
    l1, l2 = s.split('\n')
    T(211, a, l1, ha='right')
    T(211, b, l2, ha='right')
T(448, 2076, 'TOPMed minor allele frequency', ha='center')

# panel L
ax = make_ax(872, 1552, 2100, 2013)
ax.set_xlim(872, 2100)
ax.set_ylim(1 + (1940 - 2013) / 115.2, 1 + (1940 - 1552) / 115.2)
lx, ly = flat(light_cols)
dx, dy = flat(dark_cols)
ax.scatter(lx, ly, s=130, color='#a7a9ac', alpha=0.85, lw=0, clip_on=False, zorder=2)
ax.scatter(dx, dy, s=130, color=GREY, alpha=0.95, lw=0, clip_on=False, zorder=3)
ax.axhline(1.3, xmax=(2083 - 872) / (2100 - 872), color='#d8232a', lw=1.6, ls=(0, (4, 3)), zorder=4)
ax.scatter(named_pos, named_q, s=105, color='#6d6e71', lw=0, zorder=3)
ax.scatter(pale_pos, pale_q, s=105, color='#bcbec0', lw=0, zorder=3)
ax.scatter(hox_pos, hox_q, s=95, color='#c4202a', lw=0, zorder=3)
ax.plot(1007, 2.87, marker='*', ms=24, color=RED, mec='none', zorder=4)
ax.plot(1942.6, 3.19, marker='D', ms=15, color='#7b7bb5', mec='none', zorder=4)
for n, (x, y) in zip(named_genes, named_px):
    T(x, y - 2, n, color=GREY, size=GENE_FS)
for n, (x, y) in zip(pale_genes, pale_px):
    T(x, y - 2, n, color='#a7a9ac', size=GENE_FS)
for n, (x, y) in zip(hox_genes, hox_px):
    T(x, y - 2, n, color='#c4202a', size=GENE_FS)
T(1019, 1745, 'HOXD', color='#c4202a', size=GENE_FS)
T(1965.5, 1693, 'MUC16', color='#7b7bb5', size=GENE_FS)
ax.spines['left'].set_visible(True)
ax.spines['left'].set_linewidth(1.5)
ax.set_yticks([1, 2, 3, 4])
ax.set_xticks(chrom_pos, chrom_labels)
ax.tick_params(axis='x', pad=14)
ax.tick_params(axis='y', length=9, width=1.3, pad=7)
T(800, 1757, '-log$_{10}$(q-value)', ha='center', rotation=90)
T(1434, 2076, 'chromosome', ha='center')

fig.savefig('out.png', dpi=100)
